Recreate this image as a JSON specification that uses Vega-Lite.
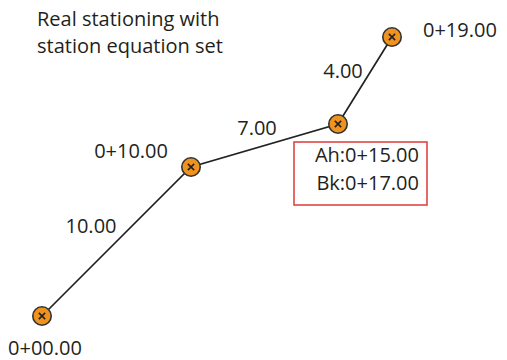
{
  "$schema": "https://vega.github.io/schema/vega-lite/v6.json",
  "width": 507,
  "height": 360,
  "autosize": {"type": "fit", "contains": "padding"},
  "padding": 0,
  "background": "white",
  "config": {"view": {"stroke": null}},
  "datasets": {
    "stations": [
      {"x": 42, "y": 316, "order": 1},
      {"x": 191, "y": 167, "order": 2},
      {"x": 338, "y": 124, "order": 3},
      {"x": 392, "y": 37, "order": 4}
    ],
    "leftLabels": [
      {"x": 37, "y": 26, "text": "Real stationing with"},
      {"x": 37, "y": 53, "text": "station equation set"},
      {"x": 423, "y": 37, "text": "0+19.00"}
    ],
    "rightLabels": [
      {"x": 168, "y": 158, "text": "0+10.00"},
      {"x": 419, "y": 162, "text": "Ah:0+15.00"},
      {"x": 419, "y": 190, "text": "Bk:0+17.00"}
    ],
    "centerLabels": [
      {"x": 45, "y": 355, "text": "0+00.00"},
      {"x": 91, "y": 233, "text": "10.00"},
      {"x": 257, "y": 135, "text": "7.00"},
      {"x": 343, "y": 78, "text": "4.00"}
    ],
    "box": [{"x1": 294, "x2": 427, "y1": 142, "y2": 205}]
  },
  "layer": [
    {
      "data": {"name": "box"},
      "mark": {"type": "rect", "fill": null, "stroke": "#e03a3a", "strokeWidth": 1.5},
      "encoding": {
        "x": {"field": "x1", "type": "quantitative", "scale": {"domain": [0, 507], "nice": false, "zero": false}, "axis": null},
        "x2": {"field": "x2"},
        "y": {"field": "y1", "type": "quantitative", "scale": {"domain": [0, 360], "reverse": true, "nice": false, "zero": false}, "axis": null},
        "y2": {"field": "y2"}
      }
    },
    {
      "data": {"name": "stations"},
      "mark": {"type": "line", "color": "#222222", "strokeWidth": 1.7},
      "encoding": {
        "x": {"field": "x", "type": "quantitative", "scale": {"domain": [0, 507], "nice": false, "zero": false}, "axis": null},
        "y": {"field": "y", "type": "quantitative", "scale": {"domain": [0, 360], "reverse": true, "nice": false, "zero": false}, "axis": null},
        "order": {"field": "order"}
      }
    },
    {
      "data": {"name": "stations"},
      "mark": {"type": "point", "shape": "circle", "filled": true, "fill": "#f0921e", "stroke": "#333333", "strokeWidth": 1.6, "size": 340, "opacity": 1},
      "encoding": {
        "x": {"field": "x", "type": "quantitative", "scale": {"domain": [0, 507], "nice": false, "zero": false}, "axis": null},
        "y": {"field": "y", "type": "quantitative", "scale": {"domain": [0, 360], "reverse": true, "nice": false, "zero": false}, "axis": null}
      }
    },
    {
      "data": {"name": "stations"},
      "mark": {"type": "point", "shape": "M-1,-1L1,1M-1,1L1,-1", "filled": false, "stroke": "#222222", "strokeWidth": 1.6, "size": 40, "opacity": 1},
      "encoding": {
        "x": {"field": "x", "type": "quantitative", "scale": {"domain": [0, 507], "nice": false, "zero": false}, "axis": null},
        "y": {"field": "y", "type": "quantitative", "scale": {"domain": [0, 360], "reverse": true, "nice": false, "zero": false}, "axis": null}
      }
    },
    {
      "data": {"name": "leftLabels"},
      "mark": {"type": "text", "font": "Open Sans", "fontSize": 20, "color": "#231f20", "baseline": "alphabetic", "align": "left"},
      "encoding": {
        "x": {"field": "x", "type": "quantitative", "scale": {"domain": [0, 507], "nice": false, "zero": false}, "axis": null},
        "y": {"field": "y", "type": "quantitative", "scale": {"domain": [0, 360], "reverse": true, "nice": false, "zero": false}, "axis": null},
        "text": {"field": "text"}
      }
    },
    {
      "data": {"name": "rightLabels"},
      "mark": {"type": "text", "font": "Open Sans", "fontSize": 20, "color": "#231f20", "baseline": "alphabetic", "align": "right"},
      "encoding": {
        "x": {"field": "x", "type": "quantitative", "scale": {"domain": [0, 507], "nice": false, "zero": false}, "axis": null},
        "y": {"field": "y", "type": "quantitative", "scale": {"domain": [0, 360], "reverse": true, "nice": false, "zero": false}, "axis": null},
        "text": {"field": "text"}
      }
    },
    {
      "data": {"name": "centerLabels"},
      "mark": {"type": "text", "font": "Open Sans", "fontSize": 20, "color": "#231f20", "baseline": "alphabetic", "align": "center"},
      "encoding": {
        "x": {"field": "x", "type": "quantitative", "scale": {"domain": [0, 507], "nice": false, "zero": false}, "axis": null},
        "y": {"field": "y", "type": "quantitative", "scale": {"domain": [0, 360], "reverse": true, "nice": false, "zero": false}, "axis": null},
        "text": {"field": "text"}
      }
    }
  ]
}
